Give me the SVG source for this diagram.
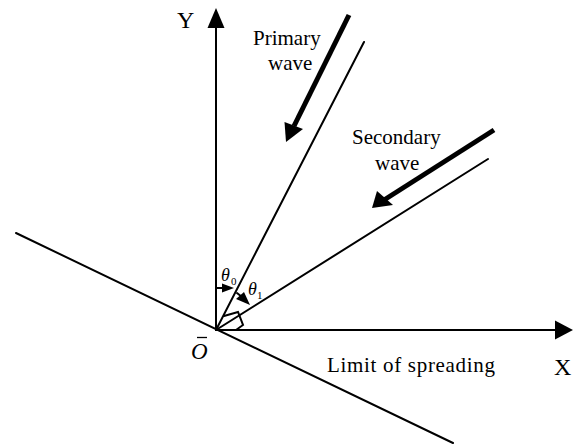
<svg xmlns="http://www.w3.org/2000/svg" width="581" height="448" viewBox="0 0 581 448">
<style>
.ln{stroke:#000;stroke-width:2;fill:none;stroke-linecap:round}
.thk{stroke:#000;stroke-width:5;fill:none}
.hd{fill:#000;stroke:none}
.t{font-family:"Liberation Serif","Times New Roman",serif;fill:#000}
</style>
<rect width="581" height="448" fill="#fff"/>
<g id="connectors">
  <!-- Y axis -->
  <line class="ln" x1="216" y1="330" x2="216" y2="24"/>
  <polygon class="hd" points="216,8 207.5,28 224.5,28"/>
  <!-- X axis -->
  <line class="ln" x1="216" y1="330" x2="558" y2="330"/>
  <polygon class="hd" points="573,330 555,320.5 555,339.5"/>
  <!-- sloping surface -->
  <line class="ln" x1="16" y1="233" x2="453" y2="443" stroke-width="2.5"/>
  <!-- primary ray -->
  <line class="ln" x1="216" y1="330" x2="364" y2="42"/>
  <!-- secondary ray -->
  <line class="ln" x1="216" y1="330" x2="488" y2="159"/>
  <!-- primary wave arrow -->
  <line class="thk" x1="349" y1="15" x2="294" y2="126"/>
  <polygon class="hd" points="286,142 284.5,122 303,129"/>
  <!-- secondary wave arrow -->
  <line class="thk" x1="494" y1="130" x2="384" y2="200"/>
  <polygon class="hd" points="372,208 377,191 393,205"/>
  <!-- angle markers -->
  <line class="ln" x1="217" y1="288" x2="224" y2="288" stroke-width="1.5"/>
  <polygon class="hd" points="234,288 222,283.5 222,292.5"/>
  <line class="ln" x1="237" y1="293" x2="242" y2="297" stroke-width="1.5"/>
  <polygon class="hd" points="250,305 236,299 244,292"/>
  <polyline class="ln" points="224,316 238,312 243,325 236,330" stroke-width="1.8"/>
</g>
<g id="label-Y"><text class="t" x="177" y="28" font-size="24">Y</text></g>
<g id="label-X"><text class="t" x="554" y="375" font-size="24">X</text></g>
<g id="label-primary">
  <text class="t" x="253" y="45" font-size="21">Primary</text>
  <text class="t" x="268" y="70" font-size="21">wave</text>
</g>
<g id="label-secondary">
  <text class="t" x="352" y="144" font-size="21">Secondary</text>
  <text class="t" x="375" y="170" font-size="21">wave</text>
</g>
<g id="label-limit"><text class="t" x="327" y="372" font-size="21" textLength="168">Limit of spreading</text></g>
<g id="label-O">
  <text class="t" x="191" y="359" font-size="23" font-style="italic">O</text>
  <line x1="197" y1="337.5" x2="207" y2="337.5" stroke="#000" stroke-width="1.3"/>
</g>
<g id="label-theta0">
  <text class="t" x="221" y="281" font-size="18" font-style="italic">θ</text>
  <text class="t" x="231" y="285" font-size="11">0</text>
</g>
<g id="label-theta1">
  <text class="t" x="248" y="295" font-size="18" font-style="italic">θ</text>
  <text class="t" x="257" y="299" font-size="11">1</text>
</g>
</svg>
